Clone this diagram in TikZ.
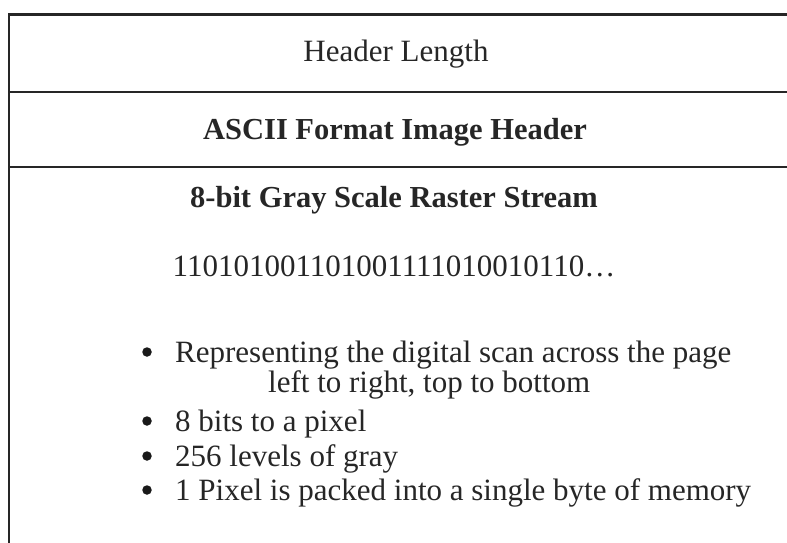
\documentclass[tikz,border=0pt]{standalone}
\usepackage{fontspec}
\setmainfont{Liberation Serif}
\begin{document}
\begin{tikzpicture}[x=1pt,y=-1pt,
  rule/.style={line width=2.2pt, black!85},
  plain/.style={font=\fontsize{31}{36}\selectfont, text=black!85, inner sep=0pt, anchor=base},
  heading/.style={plain, font=\fontsize{30.5}{36}\selectfont\bfseries},
  dot/.style={circle, fill=black!90, inner sep=0pt, minimum size=9.5pt},
  item/.style={plain, anchor=base west}]
  \useasboundingbox (0,0) rectangle (787,543);
  % frame: top rule, two separators, left edge
  \coordinate (tl) at (9,14.5);
  \coordinate (tr) at (787,14.5);
  \coordinate (bl) at (9,543);
  \coordinate (s1l) at (9,92);
  \coordinate (s1r) at (787,92);
  \coordinate (s2l) at (9,167);
  \coordinate (s2r) at (787,167);
  \draw[rule] (tr) -- (tl) -- (bl);
  \draw[rule] (s1l) -- (s1r);
  \draw[rule] (s2l) -- (s2r);
  % section titles
  \node[plain] (hlen) at (396,62) {Header Length};
  \node[heading] (ascii) at (395,139) {ASCII Format Image Header};
  \node[heading] (gray) at (394,207) {8-bit Gray Scale Raster Stream};
  \node[plain] (bits) at (394,276) {110101001101001111010010110\ldots};
  % bullet list
  \node[dot] (d1) at (147,352) {};
  \node[dot] (d2) at (147,421) {};
  \node[dot] (d3) at (147,456) {};
  \node[dot] (d4) at (147,490) {};
  \node[item] (t1) at (175,362) {Representing the digital scan across the page};
  \node[item] (t1b) at (268,392) {left to right, top to bottom};
  \node[item] (t2) at (175,431) {8 bits to a pixel};
  \node[item] (t3) at (175,466) {256 levels of gray};
  \node[item] (t4) at (175,500) {1 Pixel is packed into a single byte of memory};
\end{tikzpicture}
\end{document}
